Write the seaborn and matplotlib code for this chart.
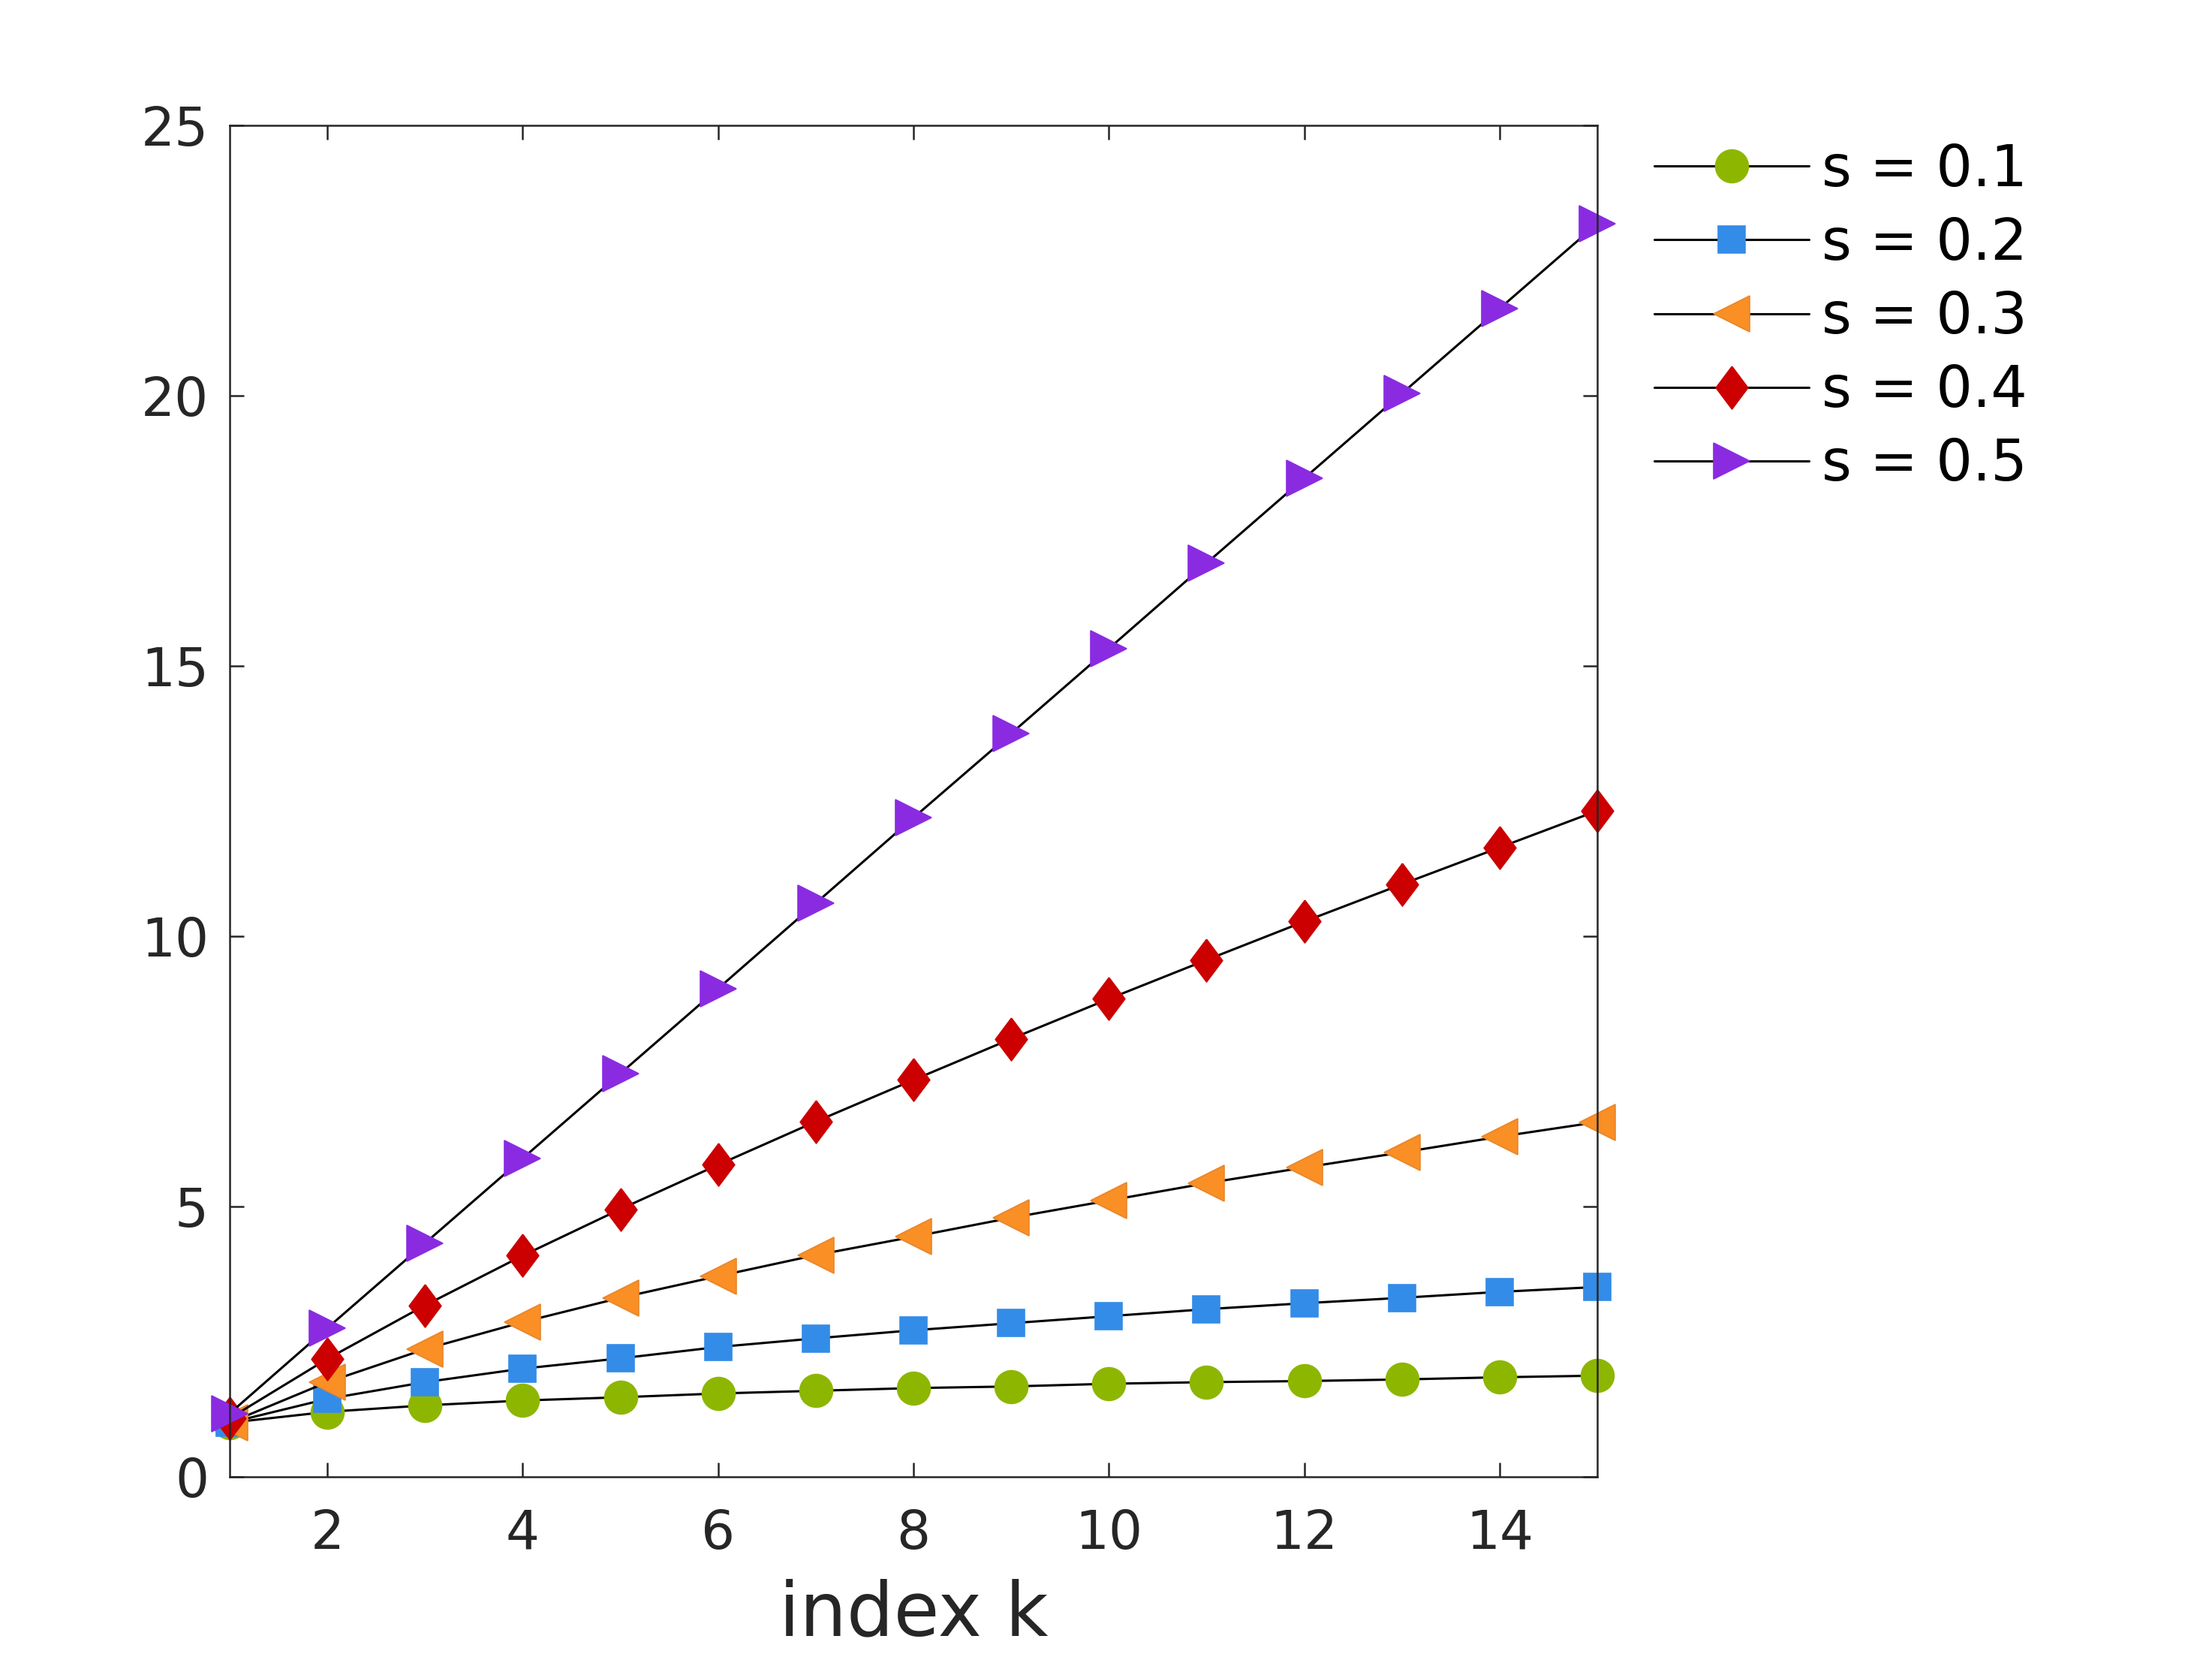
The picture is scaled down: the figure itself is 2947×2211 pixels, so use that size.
import numpy as np
import pandas as pd
import seaborn as sns
import matplotlib.pyplot as plt

# values
k = list(range(1, 16))
s01 = [1.00, 1.20, 1.32, 1.41, 1.47, 1.54, 1.59, 1.64, 1.67, 1.72, 1.75, 1.77, 1.80, 1.84, 1.87]
s02 = [1.00, 1.44, 1.75, 2.00, 2.19, 2.40, 2.56, 2.71, 2.84, 2.97, 3.10, 3.21, 3.31, 3.42, 3.51]
s03 = [1.00, 1.75, 2.36, 2.86, 3.31, 3.71, 4.10, 4.44, 4.79, 5.11, 5.43, 5.72, 6.00, 6.29, 6.56]
s04 = [1.08, 2.18, 3.17, 4.09, 4.95, 5.77, 6.57, 7.34, 8.10, 8.84, 9.56, 10.27, 10.96, 11.64, 12.32]
s05 = [1.17, 2.75, 4.32, 5.89, 7.46, 9.03, 10.61, 12.19, 13.75, 15.32, 16.90, 18.47, 20.04, 21.61, 23.18]

labels = ['s = 0.1', 's = 0.2', 's = 0.3', 's = 0.4', 's = 0.5']
colors = ['#8db600', '#338ce8', '#f98f25', '#cc0000', '#8a2be2']
edges = ['#8db600', '#338ce8', '#e8862a', '#cc0000', '#8a2be2']
diamond = [(0, 1), (0.75, 0), (0, -1), (-0.75, 0), (0, 1)]
markers = ['o', 's', '<', diamond, '>']
msizes = [15.8, 13, 17, 20.5, 17]

sns.set_style('ticks')
plt.rcParams['font.family'] = ['DejaVu Sans']

fig = plt.figure(figsize=(14.735, 11.055), dpi=200)
ax = fig.add_axes([0.1038, 0.1104, 0.6183, 0.8141])

series = [s01, s02, s03, s04, s05]
for i, vals in enumerate(series):
    df = pd.DataFrame({'k': k, 'v': vals})
    sns.lineplot(data=df, x='k', y='v', ax=ax, color='black', linewidth=1.1,
                 marker=markers[i], markersize=msizes[i],
                 markerfacecolor=colors[i], markeredgecolor=edges[i],
                 markeredgewidth=0.6, label=labels[i], clip_on=False)

ax.set_xlim(1, 15)
ax.set_ylim(0, 25)
ax.set_xticks([2, 4, 6, 8, 10, 12, 14])
ax.set_yticks([0, 5, 10, 15, 20, 25])
ax.set_xlabel('index k', fontsize=35.5, color='#262626', labelpad=9)
ax.set_ylabel('')

for sp in ax.spines.values():
    sp.set_visible(True)
    sp.set_linewidth(0.9)
    sp.set_color('#262626')
ax.tick_params(axis='both', direction='in', length=7, width=0.9, color='#262626',
               labelsize=25.5, labelcolor='#262626', top=True, right=True)
ax.tick_params(axis='x', pad=15)
ax.tick_params(axis='y', pad=10)

leg = ax.legend(loc='upper left', bbox_to_anchor=(0.7479, 0.914),
                bbox_transform=fig.transFigure, frameon=False, fontsize=27.5,
                borderpad=0, borderaxespad=0, handlelength=2.7,
                handletextpad=0.22, labelspacing=0.315)
for t in leg.get_texts():
    t.set_color('black')

fig.savefig('out.png', dpi=200)
